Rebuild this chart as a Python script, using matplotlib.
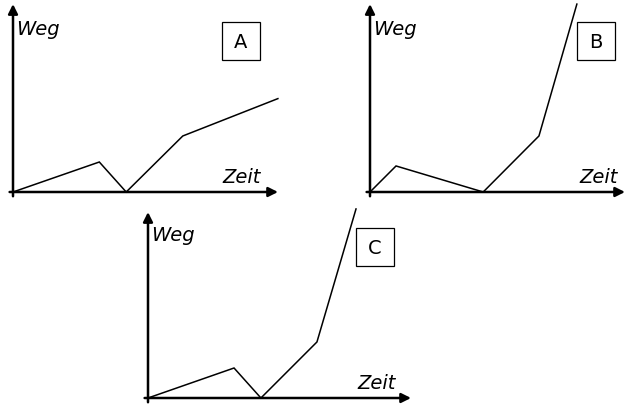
import matplotlib.pyplot as plt
from matplotlib.patches import Rectangle

# ─── Daten (Einheiten: Zeit / Weg) ────────────────────────
zeit_a = [0, 3.05, 4.0, 6.0, 9.36]
weg_a = [0, 1.06, 0, 1.98, 3.3]

zeit_b = [0, 0.92, 4.0, 5.97, 7.31]
weg_b = [0, 0.92, 0, 1.98, 6.64]

zeit_c = [0, 3.04, 3.99, 5.97, 7.35]
weg_c = [0, 1.06, 0, 1.98, 6.68]

labels = ['A', 'B', 'C']

# ─── Layout (Pixel) ───────────────────────────────────────
W_PX, H_PX = 625, 406
u = 28.3                      # Pixel pro Einheit
H = 6.64                      # Höhe der y-Achse in Einheiten

fig = plt.figure(figsize=(6.25, 4.06), dpi=100)


def panel(ox, oy, x_tip, y_top, zeit, weg, label, box_x0):
    w = (x_tip - ox) / u
    ax = fig.add_axes([ox / W_PX, (H_PX - oy) / H_PX, w * u / W_PX, H * u / H_PX])
    ax.set_xlim(0, w)
    ax.set_ylim(0, H)
    ax.axis('off')

    ax.plot(zeit, weg, color='black', lw=1.1, clip_on=False,
            solid_joinstyle='miter')

    arrow = dict(arrowstyle='-|>', lw=1.8, color='black',
                 mutation_scale=14, shrinkA=0, shrinkB=0)
    ax.annotate('', xy=(w, 0), xytext=(-0.12, 0), arrowprops=arrow,
                annotation_clip=False)
    ax.annotate('', xy=(0, y_top), xytext=(0, -0.15), arrowprops=arrow,
                annotation_clip=False)

    ax.text(0.1, 5.78, 'Weg', style='italic', fontsize=14,
            ha='left', va='center')
    ax.text(8.75, 0.55, 'Zeit', style='italic', fontsize=14,
            ha='right', va='center')

    ax.add_patch(Rectangle((box_x0, 4.65), 1.35, 1.37, fill=False,
                           lw=0.9, edgecolor='black', clip_on=False))
    ax.text(box_x0 + 0.675, 5.33, label, fontsize=14,
            ha='center', va='center')


panel(13, 193, 278, H, zeit_a, weg_a, labels[0], 7.38)
panel(370, 193, 625, H, zeit_b, weg_b, labels[1], 7.31)
panel(148, 399, 411, 6.57, zeit_c, weg_c, labels[2], 7.35)

fig.savefig('out.png', dpi=100)
